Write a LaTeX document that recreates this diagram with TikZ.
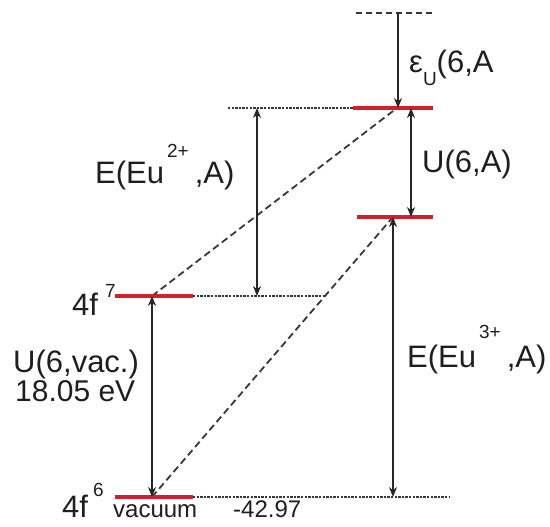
\documentclass[tikz,border=0pt]{standalone}
\usepackage{fontspec}
\setmainfont{Liberation Sans}
\usetikzlibrary{arrows.meta}
\definecolor{lvlred}{RGB}{210,32,42}
\definecolor{txt}{RGB}{30,30,30}
\definecolor{dash}{RGB}{55,55,55}
\tikzset{
  lab/.style={font=\fontsize{31}{33}\selectfont, inner sep=0pt, anchor=base west, text=txt},
  smalllab/.style={font=\fontsize{24}{26}\selectfont, inner sep=0pt, anchor=base west, text=txt},
  level/.style={draw=lvlred, line width=3.2pt},
  guide/.style={draw=dash, line width=1.1pt, dash pattern=on 2.4pt off 1.2pt},
  topguide/.style={draw=dash, line width=1.4pt, dash pattern=on 6pt off 4pt},
  diag/.style={draw=dash, line width=1.8pt, dash pattern=on 7pt off 4pt},
  dbl/.style={draw=black!85, line width=1.7pt, {Stealth[length=10pt,width=8pt]}-{Stealth[length=10pt,width=8pt]}},
  sgl/.style={draw=black!85, line width=1.7pt, -{Stealth[length=10pt,width=8pt]}}
}
\newcommand{\supx}[2]{\raisebox{#1}{\fontsize{19}{19}\selectfont #2}}
\begin{document}
\begin{tikzpicture}[x=1pt,y=-1pt]
\useasboundingbox (0,0) rectangle (550,527);
% coordinates of levels
\coordinate (T1) at (356,13);   \coordinate (T2) at (435,13);
\coordinate (A1) at (353,108);  \coordinate (A2) at (433,108);
\coordinate (G1) at (228,108);
\coordinate (B1) at (357,217);  \coordinate (B2) at (433,217);
\coordinate (S1) at (115,296);  \coordinate (S2) at (193,296);
\coordinate (G2) at (325,296);
\coordinate (Z1) at (115,497);  \coordinate (Z2) at (193,497);
\coordinate (G3) at (450,497);
% arrow end points
\coordinate (eT) at (398,13);   \coordinate (eB) at (398,108);
\coordinate (uT) at (411,108);  \coordinate (uB) at (411,217);
\coordinate (e2T) at (257,108); \coordinate (e2B) at (257,296);
\coordinate (e3T) at (393,217); \coordinate (e3B) at (393,497);
\coordinate (vT) at (152,296);  \coordinate (vB) at (152,497);
% diagonal end points
\coordinate (d1a) at (152,296); \coordinate (d1b) at (397,108);
\coordinate (d2a) at (152,497); \coordinate (d2b) at (393,217);
% guides
\draw[topguide] (T1) -- (T2);
\draw[guide] (G1) -- (A1);
\draw[guide] (S2) -- (G2);
\draw[guide] (Z2) -- (G3);
% diagonals
\draw[diag] (d1a) -- (d1b);
\draw[diag] (d2a) -- (d2b);
% levels
\draw[level] (A1) -- (A2);
\draw[level] (B1) -- (B2);
\draw[level] (S1) -- (S2);
\draw[level] (Z1) -- (Z2);
% arrows
\draw[sgl] (eT) -- (eB);
\draw[dbl] (uT) -- (uB);
\draw[dbl] (e2T) -- (e2B);
\draw[dbl] (e3T) -- (e3B);
\draw[dbl] (vT) -- (vB);
% labels
\node[lab] (leps) at (409,73) {ε\raisebox{-13pt}{\fontsize{19}{19}\selectfont U}(6,A};
\node[lab] (lu) at (422,172) {U(6,A)};
\node[lab] (le2) at (95,183) {E(Eu\hspace{3pt}\supx{26pt}{2+}\hspace{6pt},A)};
\node[lab] (le3) at (407,367) {E(Eu\hspace{3pt}\supx{29pt}{3+}\hspace{6pt},A)};
\node[lab] (l7) at (72,315) {4f\hspace{7pt}\supx{18pt}{7}};
\node[lab] (luv) at (13,372) {U(6,vac.)};
\node[lab, font=\fontsize{30}{32}\selectfont] (lev) at (15,401) {18.05 eV};
\node[lab] (l6) at (62,517) {4f\hspace{5pt}\supx{21pt}{6}};
\node[smalllab] (lvac) at (113,517) {vacuum};
\node[smalllab] (lnum) at (233,517) {-42.97};
\end{tikzpicture}
\end{document}
